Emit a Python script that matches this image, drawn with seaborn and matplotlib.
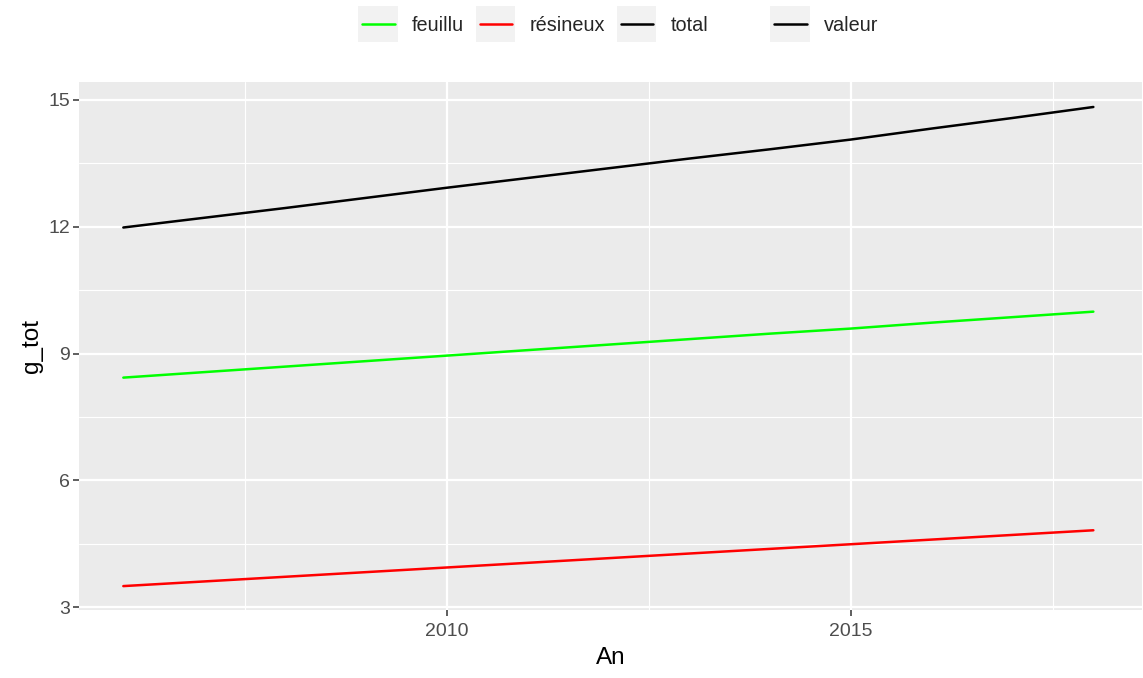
import numpy as np
import pandas as pd
import matplotlib.pyplot as plt
import seaborn as sns
from matplotlib.lines import Line2D
from matplotlib.patches import Rectangle
from matplotlib.legend_handler import HandlerBase
from matplotlib.ticker import MultipleLocator

# valeurs
annees = [2006, 2007, 2008, 2009, 2010, 2011, 2012, 2013, 2014, 2015, 2016, 2017, 2018]
total = [11.98, 12.21, 12.44, 12.68, 12.92, 13.15, 13.38, 13.61, 13.83, 14.06, 14.32, 14.57, 14.83]
feuillu = [8.43, 8.56, 8.69, 8.82, 8.95, 9.08, 9.21, 9.34, 9.47, 9.59, 9.73, 9.86, 9.99]
resineux = [3.50, 3.61, 3.72, 3.83, 3.94, 4.05, 4.16, 4.27, 4.38, 4.49, 4.60, 4.71, 4.82]

couleurs = {"feuillu": "#00FF00", "résineux": "#FF0000", "total": "#000000"}

df = pd.DataFrame({
    "An": annees * 3,
    "g_tot": feuillu + resineux + total,
    "type": ["feuillu"] * len(annees) + ["résineux"] * len(annees) + ["total"] * len(annees),
})

sns.set_theme(style="darkgrid", rc={
    "axes.facecolor": "#EBEBEB",
    "grid.color": "white",
    "axes.edgecolor": "none",
})
plt.rcParams['font.family'] = ['Liberation Sans', 'DejaVu Sans']

fig, ax = plt.subplots(figsize=(11.43, 6.78), dpi=100)
fig.subplots_adjust(left=0.069, right=0.999, top=0.879, bottom=0.1)

sns.lineplot(data=df, x="An", y="g_tot", hue="type", palette=couleurs,
             linewidth=1.8, legend=False, ax=ax)

ax.set_xlim(2005.45, 2018.6)
ax.set_ylim(2.93, 15.42)
ax.set_xticks([2010, 2015])
ax.set_yticks([3, 6, 9, 12, 15])
ax.xaxis.set_minor_locator(MultipleLocator(2.5))
ax.yaxis.set_minor_locator(MultipleLocator(1.5))
ax.grid(which="major", color="white", linewidth=1.6)
ax.grid(which="minor", color="white", linewidth=0.8)
ax.tick_params(which="major", length=4, width=1.1, color="#333333", labelcolor="#4D4D4D",
               labelsize=14, bottom=True, left=True, pad=2.5)
ax.tick_params(axis="x", which="major", pad=5.5)
ax.tick_params(which="minor", length=0)
for s in ax.spines.values():
    s.set_visible(False)

ax.set_xlabel("An", fontsize=17.5, color="black", labelpad=5)
ax.set_ylabel("g_tot", fontsize=17.5, color="black", labelpad=4)


# clé de légende : carré gris + trait plus court
class CleGgplot(HandlerBase):
    def create_artists(self, legend, orig, xd, yd, w, h, fs, trans):
        fond = Rectangle((-xd, -yd - h * 0.5), w, h * 2, facecolor="#F2F2F2",
                         edgecolor="none", transform=trans)
        ym = -yd + h / 2
        trait = Line2D([-xd + w * 0.1, -xd + w * 0.92], [ym, ym],
                       color=orig.get_color(), linewidth=1.8, transform=trans)
        return [fond, trait]


def cle(c):
    return Line2D([0], [0], color=c, linewidth=1.8)


opts = dict(frameon=False, fontsize=14.3, handlelength=2.0, handleheight=1.0,
            handletextpad=0.7, columnspacing=0.6, borderpad=0, borderaxespad=0,
            loc="center left", handler_map={Line2D: CleGgplot()})

leg1 = fig.legend([cle(couleurs[k]) for k in ["feuillu", "résineux", "total"]],
                  ["feuillu", "résineux", "total"], ncol=3,
                  bbox_to_anchor=(358 / 1143, 0.963), **opts)
leg2 = fig.legend([cle("black")], ["valeur"],
                  bbox_to_anchor=(770 / 1143, 0.963), **opts)

fig.savefig("out.png", dpi=100, facecolor="white")
